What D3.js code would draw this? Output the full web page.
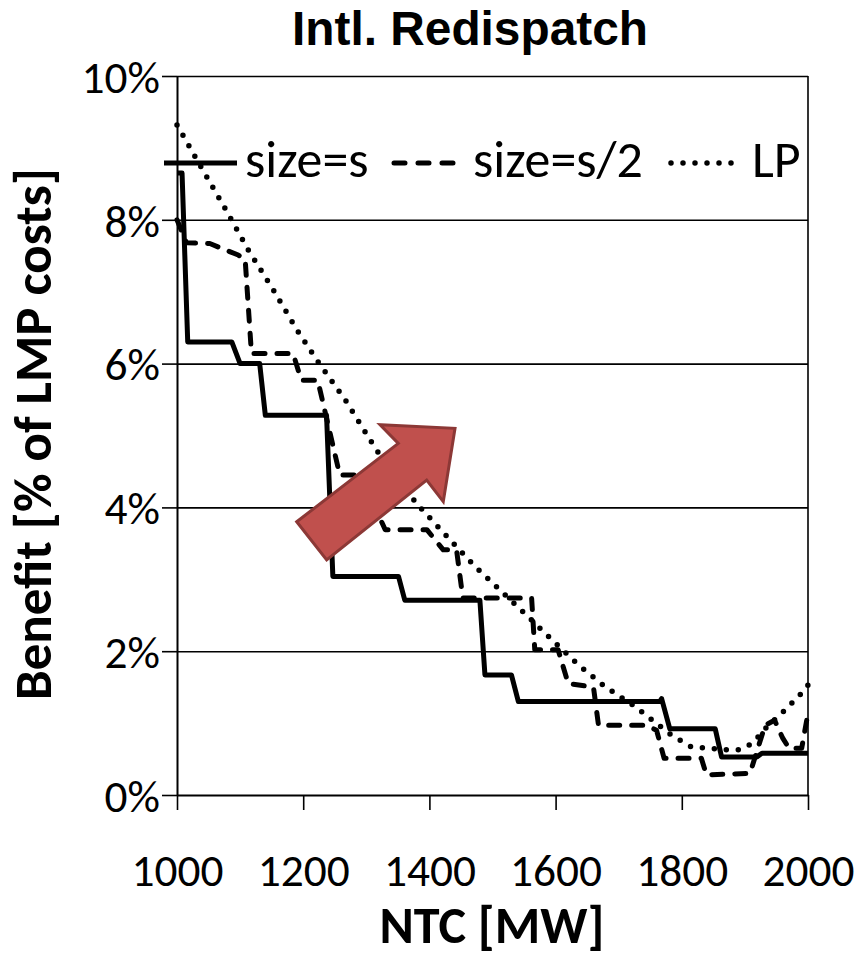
<!DOCTYPE html>
<html>
<head>
<meta charset="utf-8">
<script src="https://cdn.jsdelivr.net/npm/d3@7"></script>
<style>
  html, body { margin: 0; padding: 0; background: #fff; }
  svg { display: block; }
</style>
</head>
<body>
<svg id="chart" width="860" height="958"></svg>
<script>
// ---------------- data ----------------
const chartTitle = "Intl. Redispatch";
const xLabel = "NTC [MW]";
const yLabel = "Benefit [% of LMP costs]";
const xTicks = [1000, 1200, 1400, 1600, 1800, 2000];
const yTicks = [0, 2, 4, 6, 8, 10];
const seriesNames = ["size=s", "size=s/2", "LP"];

// size=s  (NTC MW, benefit %)
const sizeS_ntc = [1000, 1008, 1017, 1087, 1100, 1131, 1140, 1237, 1247, 1351, 1361, 1480, 1488, 1530, 1541, 1765, 1768, 1781, 1853, 1863, 1919, 1927, 2000];
const sizeS_val = [8.65, 8.65, 6.30, 6.30, 6.00, 6.00, 5.28, 5.28, 3.04, 3.04, 2.71, 2.71, 1.67, 1.67, 1.30, 1.30, 1.34, 0.92, 0.92, 0.53, 0.53, 0.58, 0.58];

// size=s/2
const sizeHalf_ntc = [1000, 1015, 1052, 1097, 1108, 1118, 1184, 1197, 1223, 1258, 1290, 1330, 1396, 1422, 1443, 1453, 1562, 1567, 1604, 1620, 1660, 1668, 1744, 1760, 1772, 1831, 1839, 1908, 1932, 1947, 1960, 1970, 1990, 2000];
const sizeHalf_val = [8.00, 7.68, 7.67, 7.51, 7.45, 6.14, 6.14, 5.77, 5.77, 4.45, 4.45, 3.69, 3.69, 3.41, 3.41, 2.74, 2.74, 2.02, 2.02, 1.55, 1.50, 0.97, 0.97, 0.90, 0.51, 0.51, 0.28, 0.30, 0.97, 1.04, 0.79, 0.65, 0.65, 1.14];

// LP
const lp_ntc = [1000, 1039, 1076, 1113, 1153, 1190, 1224, 1267, 1316, 1380, 1438, 1472, 1501, 1554, 1594, 1636, 1678, 1726, 1739, 1784, 1815, 1871, 1892, 1908, 1919, 1935, 1961, 1987, 2000];
const lp_val = [9.32, 8.72, 8.16, 7.58, 7.02, 6.47, 6.02, 5.49, 4.80, 4.05, 3.50, 3.18, 2.94, 2.50, 2.16, 1.81, 1.51, 1.23, 1.14, 0.83, 0.67, 0.63, 0.63, 0.70, 0.79, 0.95, 1.16, 1.39, 1.53];

// annotation arrow outline (in data units: NTC, %)
const arrow_ntc = [1189.7, 1350.7, 1321.7, 1440.6, 1422.0, 1395.7, 1237.2];
const arrow_val = [3.80, 4.89, 5.15, 5.10, 4.08, 4.38, 3.27];

// ---------------- chart ----------------
const svg = d3.select("#chart");
svg.append("rect").attr("width", 860).attr("height", 958).attr("fill", "#fff");

const pLeft = 177, pRight = 808, pTop = 76, pBottom = 795;
const x = d3.scaleLinear().domain([1000, 2000]).range([pLeft, pRight]);
const y = d3.scaleLinear().domain([0, 10]).range([pBottom, pTop]);

const FONT = "Carlito, Calibri, Lato, sans-serif";

function fitFont(sel, target, base) {
  sel.style("font-size", base + "px");
  const w = sel.node().getComputedTextLength();
  const fs = base * target / w;
  sel.style("font-size", fs + "px");
  return fs;
}

// grid lines
const grid = svg.append("g").attr("transform", `translate(${pLeft},0)`)
  .call(d3.axisLeft(y).tickValues(yTicks.filter(d => d > 0)).tickSize(-(pRight - pLeft)).tickFormat(""));
grid.select(".domain").remove();
grid.selectAll("line").attr("stroke", "#000").attr("stroke-width", 1.6);

// right border
svg.append("line").attr("x1", pRight).attr("x2", pRight).attr("y1", pTop).attr("y2", pBottom)
  .attr("stroke", "#000").attr("stroke-width", 1.6);

// y axis
const yAxisG = svg.append("g").attr("transform", `translate(${pLeft},0)`)
  .call(d3.axisLeft(y).tickValues(yTicks).tickSize(15).tickSizeOuter(0).tickPadding(2).tickFormat(d => d + "%"));
yAxisG.select(".domain").attr("stroke", "#000").attr("stroke-width", 2);
yAxisG.selectAll("line").attr("stroke", "#000").attr("stroke-width", 1.6);
const yt = yAxisG.selectAll("text").attr("font-family", FONT).attr("fill", "#000");

// x axis
const xAxisG = svg.append("g").attr("transform", `translate(0,${pBottom})`)
  .call(d3.axisBottom(x).tickValues(xTicks).tickSize(15).tickSizeOuter(0).tickFormat(d3.format("d")));
xAxisG.select(".domain").attr("stroke", "#000").attr("stroke-width", 2);
xAxisG.selectAll("line").attr("stroke", "#000").attr("stroke-width", 1.6);
const xt = xAxisG.selectAll("text").attr("font-family", FONT).attr("fill", "#000");
const tickFs = fitFont(d3.select(xt.nodes()[0]), 92, 40);
xt.style("font-size", tickFs + "px").attr("y", 91).attr("dy", 0);
yt.style("font-size", tickFs + "px").attr("dy", (tickFs * 0.36) + "px");

// lines
const line = d3.line().x(d => x(d[0])).y(d => y(d[1]));
const sets = [
  { pts: d3.zip(lp_ntc, lp_val), dash: "0,12", w: 5.5, cap: "round" },
  { pts: d3.zip(sizeHalf_ntc, sizeHalf_val), dash: "11,12", w: 5, cap: "round" },
  { pts: d3.zip(sizeS_ntc, sizeS_val), dash: null, w: 5, cap: "butt" }
];
sets.forEach(s => {
  svg.append("path").datum(s.pts)
    .attr("d", line)
    .attr("fill", "none")
    .attr("stroke", "#000")
    .attr("stroke-width", s.w)
    .attr("stroke-linecap", s.cap)
    .attr("stroke-linejoin", "round")
    .attr("stroke-dasharray", s.dash);
});

// legend
const legendY = 163;
const legendItems = [
  { name: seriesNames[0], x1: 164, x2: 237, tx: 245, dash: null, w: 5, cap: "butt" },
  { name: seriesNames[1], x1: 394, x2: 457, tx: 473, dash: "11,13", w: 5, cap: "round" },
  { name: seriesNames[2], x1: 671, x2: 733, tx: 752, dash: "0,12", w: 5.5, cap: "round" }
];
const lg = svg.append("g");
legendItems.forEach(it => {
  lg.append("line").attr("x1", it.x1).attr("x2", it.x2).attr("y1", legendY).attr("y2", legendY)
    .attr("stroke", "#000").attr("stroke-width", it.w).attr("stroke-linecap", it.cap)
    .attr("stroke-dasharray", it.dash);
});
const legTexts = lg.selectAll("text.leg").data(legendItems).enter().append("text")
  .attr("class", "leg").attr("x", d => d.tx).attr("y", 177)
  .attr("font-family", FONT).attr("fill", "#000").text(d => d.name);
const legFs = fitFont(d3.select(legTexts.nodes()[1]), 170, 44);
legTexts.style("font-size", legFs + "px");

// arrow annotation
svg.append("path")
  .datum(d3.zip(arrow_ntc, arrow_val))
  .attr("d", d => line(d) + "Z")
  .attr("fill", "#C0504D")
  .attr("stroke", "#8C3836")
  .attr("stroke-width", 3)
  .attr("stroke-linejoin", "miter");

// title
const t = svg.append("text").attr("x", 470).attr("y", 45).attr("text-anchor", "middle")
  .attr("font-family", "'Liberation Sans', Arial, sans-serif").attr("font-weight", "bold")
  .attr("fill", "#000").text(chartTitle);
fitFont(t, 356, 46);

// x label
const xl = svg.append("text").attr("x", 492).attr("y", 943).attr("text-anchor", "middle")
  .attr("font-family", FONT).attr("font-weight", "bold").attr("fill", "#000").text(xLabel);
fitFont(xl, 225, 50);

// y label
const yl = svg.append("text").attr("transform", "translate(51,434) rotate(-90)").attr("text-anchor", "middle")
  .attr("font-family", FONT).attr("font-weight", "bold").attr("fill", "#000").text(yLabel);
fitFont(yl, 532, 46);
</script>
</body>
</html>
